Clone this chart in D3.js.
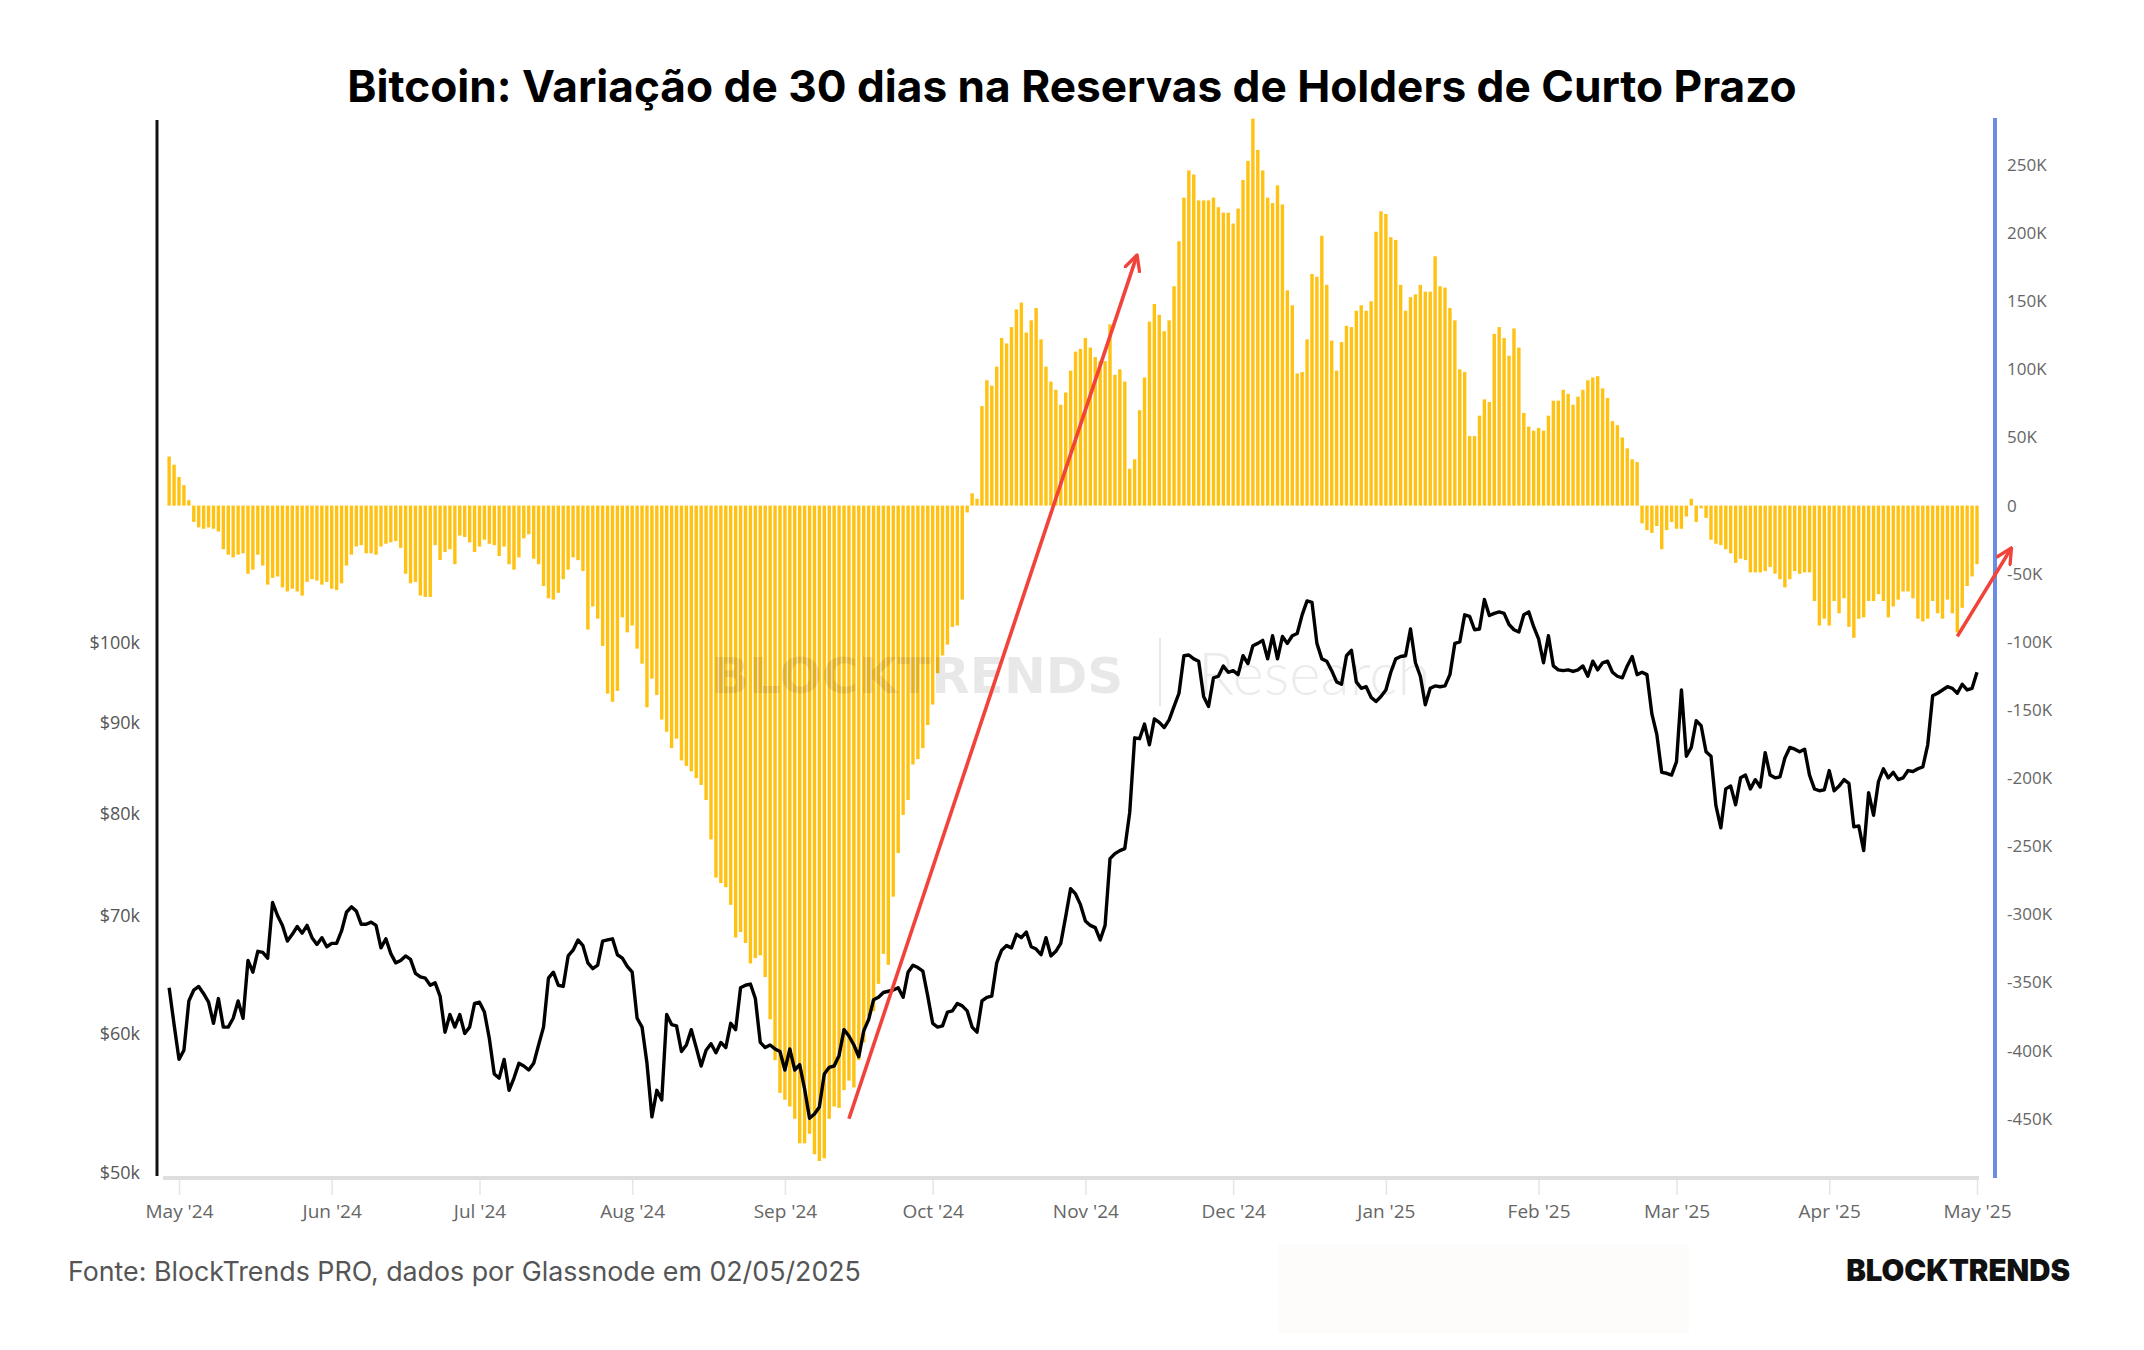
<!DOCTYPE html>
<html>
<head>
<meta charset="utf-8">
<script src="https://cdn.jsdelivr.net/npm/d3@7"></script>
<style>
  body { margin: 0; background: #fff; }
  svg { display: block; }
  .g-axis text { font-family: "Open Sans", sans-serif; }
</style>
</head>
<body>
<div class="g-chart"></div>
<script>
// first bar / price point is 29 Apr 2024, one value per day
const startDate = "2024-04-29";

// 30d change in short-term holder supply, thousands of BTC
const reserveChange = [
  36, 30, 21, 15, 4, -12, -16, -17, -16, -17,
  -19, -32, -36, -38, -36, -35, -50, -47, -36, -44,
  -58, -53, -52, -60, -63, -61, -63, -66, -56, -54,
  -55, -58, -56, -61, -62, -57, -44, -36, -30, -29,
  -35, -35, -36, -30, -28, -27, -26, -31, -50, -57,
  -56, -66, -67, -67, -29, -40, -34, -32, -43, -22,
  -23, -27, -34, -30, -25, -28, -29, -37, -30, -43,
  -47, -38, -24, -21, -39, -43, -59, -68, -69, -64,
  -54, -47, -38, -40, -48, -91, -74, -83, -103, -138,
  -144, -136,
  -82, -93, -88, -105, -116, -148, -127, -139, -157, -166,
  -178, -171, -187, -191, -195, -200, -205, -216, -245, -273,
  -277, -280, -293, -317, -313, -321, -336, -332, -330, -346,
  -377, -407, -431, -436, -441, -450, -468, -468, -461, -476,
  -481, -479, -450, -441, -442, -429, -422, -427, -407, -394,
  -375, -371, -351, -329, -337, -287, -255, -227, -216, -190,
  -186, -178, -161, -146, -123, -110, -102, -89, -88, -69,
  -5, 9, 5,
  73, 92, 88, 102, 123, 119, 131, 144, 149, 127,
  136, 145, 122, 102, 91, 85, 74, 83, 99, 113,
  115, 123, 116, 109, 106, 106, 133,
  96, 100, 91, 27, 34, 70, 94, 135, 148, 140,
  128, 136, 161, 194, 226, 246, 243, 224, 224, 224,
  226, 219, 215, 215, 207, 218, 239, 253, 284,
  261, 246, 226, 222, 235, 221, 158, 147, 97, 98,
  122, 170, 168, 198, 162, 121, 99, 120, 132, 131,
  143, 147, 143, 150, 201, 216, 214, 197, 195, 162,
  143, 153, 155, 162, 157, 157, 183, 161, 160, 145,
  136, 100, 98, 51, 51, 66, 78, 76, 126, 131,
  123, 110, 130, 116, 68, 58, 55, 57, 55, 66,
  77, 77,
  85, 82, 74, 80, 85, 92, 94, 95, 86, 79,
  62, 59, 50, 42, 34, 32,
  -13, -18, -20, -15, -32, -18, -12, -17, -17, -8,
  5, -12, -2, -9, -25, -28, -29, -32, -35, -42,
  -39, -40, -49, -49, -49, -48, -45, -50, -54, -60,
  -54, -48, -50, -49, -49, -70, -88, -83, -88, -70,
  -79, -68, -89, -97, -83, -82, -70, -70, -65, -70,
  -82, -74, -69, -63, -63, -68, -83, -85, -83, -70,
  -79, -83, -69, -79, -93, -75, -59, -52, -43
];

// BTC price, thousands of USD
const btcPrice = [
  63.7, 60.7, 58.0, 58.7, 62.6, 63.5, 63.8, 63.2, 62.5, 60.8,
  62.8, 60.5, 60.5, 61.2, 62.6, 61.2, 66.0, 65.0, 66.8, 66.7,
  66.2, 71.2, 70.0, 69.1, 67.7, 68.3, 69.0, 68.4, 69.1, 68.0,
  67.4, 68.0, 67.2, 67.5, 67.5, 68.6, 70.3, 70.8, 70.4, 69.2,
  69.2, 69.4, 69.1, 67.1, 67.9, 66.6, 65.8, 66.0, 66.4, 66.1,
  64.9, 64.6, 64.5, 63.9, 64.1, 63.0, 60.1, 61.5, 60.5, 61.5,
  60.0, 60.5, 62.4, 62.5, 61.7, 59.6, 56.9, 56.6, 58.0, 55.7,
  56.6, 57.7, 57.5, 57.2, 57.7, 59.1, 60.5, 64.5, 65.0, 63.9,
  63.8, 66.4, 66.9, 67.8, 67.3, 65.8, 65.3, 65.6, 67.7, 67.8,
  67.9, 66.5,
  66.2, 65.5, 65.0, 61.2, 60.5, 57.7, 53.8, 55.7, 55.0, 61.5,
  60.7, 60.6, 58.6, 59.1, 60.3, 58.9, 57.5, 58.7, 59.2, 58.5,
  59.3, 58.9, 60.8, 60.3, 63.7, 63.9, 64.0, 62.8, 59.3, 58.9,
  59.1, 58.8, 58.6, 57.2, 58.8, 57.2, 57.6, 55.8, 53.7, 54.0,
  54.5, 56.9, 57.4, 57.5, 58.3, 60.3, 59.8, 59.1, 58.2, 60.2,
  61.1, 62.7, 62.9, 63.3, 63.4, 63.5, 63.7, 62.9, 65.0, 65.6,
  65.4, 65.1, 63.0, 60.8, 60.5, 60.6, 61.7, 61.8, 62.4, 62.2,
  61.8, 60.5, 60.1, 62.6, 62.9, 63.0, 65.8, 66.9, 67.3, 67.1,
  68.3, 68.0, 68.5, 67.2, 67.0, 66.5, 68.0, 66.4, 66.8, 67.5,
  69.9, 72.5, 72.0,
  71.0, 69.5, 69.1, 68.9, 67.8, 69.1, 75.4, 75.9, 76.2, 76.4,
  80.1, 88.3, 88.2, 89.9, 87.5, 90.5, 90.1, 89.5, 90.4, 92.0,
  93.6, 98.3, 98.4, 97.9, 97.6, 93.2, 92.0, 95.5, 95.7, 97.0,
  96.2, 96.4, 95.9, 98.3, 97.3, 99.6, 99.9, 100.3, 97.9, 100.9,
  97.9, 100.8, 99.9, 100.9, 101.2, 103.7, 105.6, 105.4, 99.9, 97.9,
  97.6, 96.4, 95.0, 94.7, 98.3, 99.0, 95.0, 94.2, 94.4, 93.1,
  92.6, 93.2, 94.0, 96.2, 97.9, 98.2, 98.3, 101.8, 97.4, 95.7,
  92.2, 94.2, 94.5, 94.4, 94.5, 95.9, 99.9, 100.1, 103.7, 103.5,
  101.7, 101.8, 105.8, 103.6, 103.9, 104.1, 103.9, 102.4, 101.7, 101.4,
  103.7, 104.1, 102.1, 100.5, 97.4, 100.9, 97.0, 96.5,
  96.4, 96.5, 96.3, 96.5, 97.0, 95.7, 97.6, 96.5, 97.4, 97.6,
  96.2, 95.7, 95.5, 97.0, 98.2, 95.9, 96.2, 95.9, 91.1, 88.7,
  84.4, 84.3, 84.1, 85.6, 94.0, 86.2, 87.2, 90.3, 89.7, 86.7,
  86.2, 80.8, 78.5, 82.6, 82.9, 80.9, 83.8, 84.1, 82.6, 83.6,
  82.8, 86.6, 84.1, 83.8, 83.9, 86.0, 87.2, 87.0, 86.7, 87.0,
  84.1, 82.6, 82.4, 82.5, 84.6, 82.4, 82.9, 83.6, 83.2, 78.6,
  78.7, 76.2, 82.2, 79.8, 83.4, 84.8, 83.8, 84.4, 83.6, 83.8,
  84.6, 84.5, 84.8, 85.0, 87.5, 93.3, 93.6, 94.0, 94.4, 94.2,
  93.6, 94.7, 94.0, 94.2, 96.2
];

const priceTicks = [50000, 60000, 70000, 80000, 90000, 100000];
const reserveTicks = d3.range(-450000, 250001, 50000);
const xDomain = ["2024-05-01", "2025-05-01"];

// red annotation arrows: [date, reserve change] from -> to
const arrows = [
  { from: ["2024-09-14", -450000], to: ["2024-11-11T12:00", 184000] },
  { from: ["2025-04-27", -96000], to: ["2025-05-08", -31000] }
];

const parse = d3.isoParse;
const t0 = parse(startDate);
const data = reserveChange.map(function(v, i){
  return { date: d3.timeDay.offset(t0, i), change: v * 1000, price: btcPrice[i] * 1000 };
});

const width = 2144, height = 1350;
const plotLeft = 157, plotRight = 1995, plotTop = 120, plotBottom = 1176;

const svg = d3.select(".g-chart").append("svg")
  .attr("width", width).attr("height", height)
  .style("font-family", "Inter, sans-serif");

svg.append("rect").attr("width", width).attr("height", height).attr("fill", "#fff");

const x = d3.scaleTime().domain(xDomain.map(parse)).range([179, 1977]);
const y1 = d3.scaleLog().domain([49800, 198000]).range([plotBottom, plotTop]);
const y2 = d3.scaleLinear().domain([-492000, 283000]).range([plotBottom, plotTop]);

// title, fitted to the width it has in the original
const title = svg.append("text")
  .attr("x", 1072).attr("y", 102)
  .attr("text-anchor", "middle")
  .style("font-size", "44px").style("font-weight", 700).style("fill", "#000")
  .text("Bitcoin: Variação de 30 dias na Reservas de Holders de Curto Prazo");
const tw = title.node().getComputedTextLength();
title.style("font-size", (44 * 1450 / tw) + "px");

// bars
const bw = 3.4;
svg.append("g").selectAll("rect")
  .data(data)
  .join("rect")
  .attr("x", d => x(d.date) - bw / 2)
  .attr("y", d => Math.min(y2(d.change), y2(0)))
  .attr("width", bw)
  .attr("height", d => Math.abs(y2(d.change) - y2(0)))
  .attr("fill", "#ffc212");

// watermark
const wm = svg.append("g");
wm.append("text").attr("x", 711).attr("y", 693)
  .style("font-family", "'DejaVu Sans', sans-serif").style("font-weight", 700)
  .style("font-size", "50px").style("fill", "rgba(0,0,0,0.09)")
  .text("BLOCKTRENDS");
wm.append("line").attr("x1", 1160).attr("x2", 1160).attr("y1", 638).attr("y2", 706)
  .style("stroke", "rgba(0,0,0,0.09)").style("stroke-width", 2);
wm.append("text").attr("x", 1198).attr("y", 695)
  .style("font-family", "Lato, sans-serif").style("font-weight", 300)
  .style("font-size", "60px").style("fill", "rgba(0,0,0,0.08)")
  .text("Research");

// price line
const line = d3.line().x(d => x(d.date)).y(d => y1(d.price));
svg.append("path")
  .datum(data)
  .attr("d", line)
  .style("fill", "none").style("stroke", "#000")
  .style("stroke-width", 3.4).style("stroke-linejoin", "round");

// x axis
const xaxis = d3.axisBottom(x)
  .ticks(d3.timeMonth.every(1))
  .tickFormat(d3.timeFormat("%b '%y"))
  .tickSize(17).tickPadding(10);
const gx = svg.append("g").attr("class", "g-axis")
  .attr("transform", "translate(0," + (plotBottom + 2) + ")")
  .call(xaxis);
gx.select(".domain").remove();
gx.selectAll(".tick line").style("stroke", "#e6e6e6").style("stroke-width", 1.5);
gx.selectAll(".tick text").style("font-size", "19px").style("fill", "#666");
svg.append("line")
  .attr("x1", plotLeft + 6).attr("x2", x(parse(xDomain[1])) + 2)
  .attr("y1", plotBottom + 2).attr("y2", plotBottom + 2)
  .style("stroke", "#dedede").style("stroke-width", 4);

// left price axis
const yaxisL = d3.axisLeft(y1)
  .tickValues(priceTicks)
  .tickFormat(d => "$" + d / 1000 + "k")
  .tickSize(0).tickPadding(17);
const gl = svg.append("g").attr("class", "g-axis")
  .attr("transform", "translate(" + plotLeft + ",0)")
  .call(yaxisL);
gl.select(".domain").remove();
gl.selectAll(".tick text").style("font-size", "18px").style("fill", "#555");
svg.append("line")
  .attr("x1", plotLeft).attr("x2", plotLeft)
  .attr("y1", plotTop).attr("y2", plotBottom)
  .style("stroke", "#111").style("stroke-width", 3);

// right reserve axis
const yaxisR = d3.axisRight(y2)
  .tickValues(reserveTicks)
  .tickFormat(d => d === 0 ? "0" : d / 1000 + "K")
  .tickSize(0).tickPadding(12);
const gr = svg.append("g").attr("class", "g-axis")
  .attr("transform", "translate(" + plotRight + ",0)")
  .call(yaxisR);
gr.select(".domain").remove();
gr.selectAll(".tick text").style("font-size", "17px").style("fill", "#666");
svg.append("line")
  .attr("x1", plotRight).attr("x2", plotRight)
  .attr("y1", plotTop - 2).attr("y2", plotBottom + 2)
  .style("stroke", "#6a8ce4").style("stroke-width", 4);

// arrows
const defs = svg.append("defs");
defs.append("marker")
  .attr("id", "g-arrow")
  .attr("viewBox", "0 0 12 12")
  .attr("refX", 11).attr("refY", 6)
  .attr("markerWidth", 18).attr("markerHeight", 18)
  .attr("markerUnits", "userSpaceOnUse")
  .attr("orient", "auto")
  .append("path")
  .attr("d", "M1,1 L11,6 L1,11")
  .style("fill", "none").style("stroke", "#f2433a").style("stroke-width", 2.2)
  .style("stroke-linecap", "round").style("stroke-linejoin", "round");

svg.append("g").selectAll("line")
  .data(arrows)
  .join("line")
  .attr("x1", d => x(parse(d.from[0]))).attr("y1", d => y2(d.from[1]))
  .attr("x2", d => x(parse(d.to[0]))).attr("y2", d => y2(d.to[1]))
  .style("stroke", "#f2433a").style("stroke-width", 3.6)
  .attr("marker-end", "url(#g-arrow)");

// footer
svg.append("rect")
  .attr("x", 1278).attr("y", 1244).attr("width", 411).attr("height", 89)
  .attr("fill", "#fdfcfb");
const src = svg.append("text")
  .attr("x", 68).attr("y", 1281)
  .style("font-size", "27px").style("fill", "#555")
  .text("Fonte: BlockTrends PRO, dados por Glassnode em 02/05/2025");
const sw = src.node().getComputedTextLength();
src.style("font-size", (27 * 793 / sw) + "px");

const logo = svg.append("text")
  .attr("x", 2070).attr("y", 1281)
  .attr("text-anchor", "end")
  .style("font-size", "27px").style("font-weight", 900).style("fill", "#111")
  .text("BLOCKTRENDS");
const lw = logo.node().getComputedTextLength();
logo.style("font-size", (27 * 224 / lw) + "px");
</script>
</body>
</html>
